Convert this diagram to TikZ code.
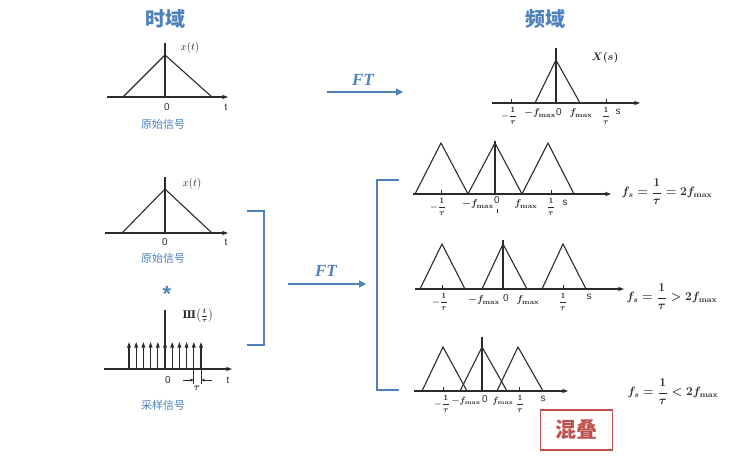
\documentclass[tikz,border=0pt]{standalone}
\usepackage{fontspec}
\usepackage{amsmath}
\usetikzlibrary{arrows.meta}
\newfontfamily\cjk{Noto Sans CJK SC}
\newfontfamily\sans{Liberation Sans}
\newfontfamily\serifb{Liberation Serif}
\newfontfamily\shafont{DejaVu Serif}
\definecolor{bl}{HTML}{4F81BD}
\definecolor{pl}{HTML}{2B2B2B}
\definecolor{rd}{HTML}{C0504D}
\begin{document}
\begin{tikzpicture}[x=1pt,y=-1pt,
  plot/.style={line width=1.1pt, draw=pl},
  ax/.style={line width=1.1pt, draw=pl, -{Stealth[length=6pt,width=4.5pt]}},
  tick/.style={line width=0.8pt, draw=pl},
  blueln/.style={line width=2.3pt, draw=bl},
  ftarrow/.style={line width=2.3pt, draw=bl, -{Triangle[length=7pt,width=7pt]}},
  ftlab/.style={font=\serifb\bfseries\itshape\fontsize{17}{17}\selectfont, text=bl, inner sep=0},
  title/.style={font=\cjk\bfseries\fontsize{20}{20}\selectfont, text=bl, inner sep=0},
  cn/.style={font=\cjk\fontsize{11}{11}\selectfont, text=bl, inner sep=0},
  lab/.style={font=\sans\fontsize{10}{10}\selectfont, text=pl, inner sep=0},
  ml/.style={font=\fontsize{10.5}{10.5}\selectfont, text=pl, inner sep=0},
  fr/.style={font=\boldmath\fontsize{8.5}{8.5}\selectfont, text=pl, inner sep=0},
  fm/.style={font=\boldmath\fontsize{10}{10}\selectfont, text=pl, inner sep=0},
  formula/.style={font=\boldmath\fontsize{12}{12}\selectfont, text=pl, inner sep=0}]
\useasboundingbox (0,0) rectangle (755,475);

% titles
\node[title] (tA) at (165,19) {时域};
\node[title] (tB) at (545,19) {频域};

% ---- top-left original signal
\draw[ax] (107,97) -- (228,97);
\draw[plot] (165,43) -- (165,97);
\draw[plot] (123,97) -- (165,55) -- (212,97);
\node[ml] (xt1) at (190,48) {$x(t)$};
\node[lab] (z1) at (167,107) {0};
\node[lab] (tt1) at (226,107) {t};
\node[cn] (c1) at (163,124) {原始信号};

% ---- top FT arrow
\coordinate (f1a) at (327,92);
\coordinate (f1b) at (403,92);
\draw[ftarrow] (f1a) -- (f1b);
\node[ftlab] (ft1) at (363,80) {FT};

% ---- top spectrum
\draw[ax] (492,103) -- (640,103);
\draw[plot] (556,48) -- (556,103);
\draw[plot] (535,103) -- (556,60) -- (580,103);
\draw[tick] (511,99) -- (511,103);
\draw[tick] (606,99) -- (606,103);
\node[fr] (a1) at (509,116) {$-\dfrac{1}{\tau}$};
\node[fm] (a2) at (540,113) {$-f_{\mathbf{max}}$};
\node[lab] (a3) at (559,112) {0};
\node[fm] (a4) at (581,113) {$f_{\mathbf{max}}$};
\node[fr] (a5) at (606,116) {$\dfrac{1}{\tau}$};
\node[lab] (a6) at (618,112) {s};
\node[ml] (a7) at (605,58) {$\boldsymbol{X(s)}$};

% ---- middle-left original signal
\draw[ax] (105,233) -- (228,233);
\draw[plot] (165,177) -- (165,233);
\draw[plot] (122,233) -- (165,189) -- (212,233);
\node[ml] (xt2) at (192,184) {$x(t)$};
\node[lab] (z2) at (165,242) {0};
\node[lab] (tt2) at (226,242) {t};
\node[cn] (c2) at (163,258) {原始信号};

% convolution star
\node[font=\sans\bfseries\fontsize{22}{22}\selectfont, text=bl, inner sep=0] (star) at (167,294) {*};

% ---- sampling signal
\draw[ax] (104,369) -- (232,369);
\draw[plot] (165,310) -- (165,369);
\foreach \i in {0,...,10}
  \draw[plot, -{Triangle[length=5.5pt,width=3.6pt]}] ({129+7.2*\i},369) -- ({129+7.2*\i},342);
\draw[tick] (193.8,369) -- (193.8,384);
\draw[tick] (201,369) -- (201,384);
\coordinate (ta) at (183,380);
\coordinate (tb) at (193.8,380);
\coordinate (tc) at (212,380);
\coordinate (td) at (201,380);
\draw[line width=0.7pt, draw=pl, -{Stealth[length=4pt,width=3pt]}] (ta) -- (tb);
\draw[line width=0.7pt, draw=pl, -{Stealth[length=4pt,width=3pt]}] (tc) -- (td);
\node[fr, font=\boldmath\fontsize{10}{10}\selectfont] (tau) at (197,388) {$\tau$};
\node[ml, font=\boldmath\fontsize{10.5}{10.5}\selectfont] (sha) at (198,316) {{\shafont\bfseries Ш}$\bigl(\frac{t}{\tau}\bigr)$};
\node[lab] (z3) at (168,380) {0};
\node[lab] (tt3) at (228,380) {t};
\node[cn] (c3) at (163,405) {采样信号};

% left bracket
\coordinate (lb1) at (247,211);
\coordinate (lb2) at (264,211);
\coordinate (lb3) at (264,345);
\coordinate (lb4) at (247,345);
\draw[blueln] (lb1) -- (lb2) -- (lb3) -- (lb4);

% middle FT arrow
\coordinate (f2a) at (288,284);
\coordinate (f2b) at (366,284);
\draw[ftarrow] (f2a) -- (f2b);
\node[ftlab] (ft2) at (326,271) {FT};

% right bracket
\coordinate (rb1) at (399,180);
\coordinate (rb2) at (377,180);
\coordinate (rb3) at (377,390);
\coordinate (rb4) at (399,390);
\draw[blueln] (rb1) -- (rb2) -- (rb3) -- (rb4);

% ---- spectrum 1 : fs = 2 fmax
\draw[ax] (413,194) -- (611,194);
\draw[plot] (495,141) -- (495,194);
\draw[plot] (415,194) -- (441,143) -- (468,194) -- (495,143) -- (522,194) -- (548,143) -- (574,194);
\draw[tick] (441,190) -- (441,194);
\draw[tick] (551,190) -- (551,194);
\node[fr] (b1) at (438,207) {$-\dfrac{1}{\tau}$};
\node[fm] (b2) at (478,204) {$-f_{\mathbf{max}}$};
\node[lab] (b3) at (497,200) {0};
\draw[line width=0.6pt, draw=pl] (497,209) -- (497,213);
\node[fm] (b4) at (526,204) {$f_{\mathbf{max}}$};
\node[fr] (b5) at (551,207) {$\dfrac{1}{\tau}$};
\node[lab] (b6) at (565,203) {s};
\node[formula] (fs1) at (667,192) {$f_s=\dfrac{1}{\tau}=2f_{\mathbf{max}}$};

% ---- spectrum 2 : fs > 2 fmax
\draw[ax] (415,289) -- (624,289);
\draw[plot] (503,240) -- (503,289);
\draw[plot] (420,289) -- (442,244) -- (465,289);
\draw[plot] (482,289) -- (503,244) -- (527,289);
\draw[plot] (542,289) -- (563,244) -- (586,289);
\draw[tick] (442,285) -- (442,289);
\draw[tick] (563,285) -- (563,289);
\node[fr] (d1) at (440,302) {$-\dfrac{1}{\tau}$};
\node[fm] (d2) at (484,300) {$-f_{\mathbf{max}}$};
\node[lab] (d3) at (506,298) {0};
\node[fm] (d4) at (528,300) {$f_{\mathbf{max}}$};
\node[fr] (d5) at (563,302) {$\dfrac{1}{\tau}$};
\node[lab] (d6) at (589,297) {s};
\node[formula] (fs2) at (672,297) {$f_s=\dfrac{1}{\tau}>2f_{\mathbf{max}}$};

% ---- spectrum 3 : fs < 2 fmax (aliasing)
\draw[ax] (414,391) -- (568,391);
\draw[plot] (482,337) -- (482,391);
\draw[plot] (422,391) -- (443,347) -- (467,391);
\draw[plot] (460,391) -- (482,347) -- (507,391);
\draw[plot] (497,391) -- (518,347) -- (543,391);
\draw[tick] (443,387) -- (443,391);
\draw[tick] (519,387) -- (519,391);
\node[fr] (e1) at (442,404) {$-\dfrac{1}{\tau}$};
\node[fm, font=\boldmath\fontsize{9}{9}\selectfont] (e2) at (466,401) {$-f_{\mathbf{max}}$};
\node[lab] (e3) at (485,399) {0};
\node[fm, font=\boldmath\fontsize{9}{9}\selectfont] (e4) at (503,401) {$f_{\mathbf{max}}$};
\node[fr] (e5) at (520,404) {$\dfrac{1}{\tau}$};
\node[lab] (e6) at (543,399) {s};
\node[formula] (fs3) at (673,392) {$f_s=\dfrac{1}{\tau}<2f_{\mathbf{max}}$};

% aliasing box
\node[draw=rd, line width=1.6pt, text=rd, font=\cjk\bfseries\fontsize{21}{21}\selectfont,
      minimum width=72pt, minimum height=40pt, inner sep=0] (alias) at (576.5,430) {混叠};
\end{tikzpicture}
\end{document}
